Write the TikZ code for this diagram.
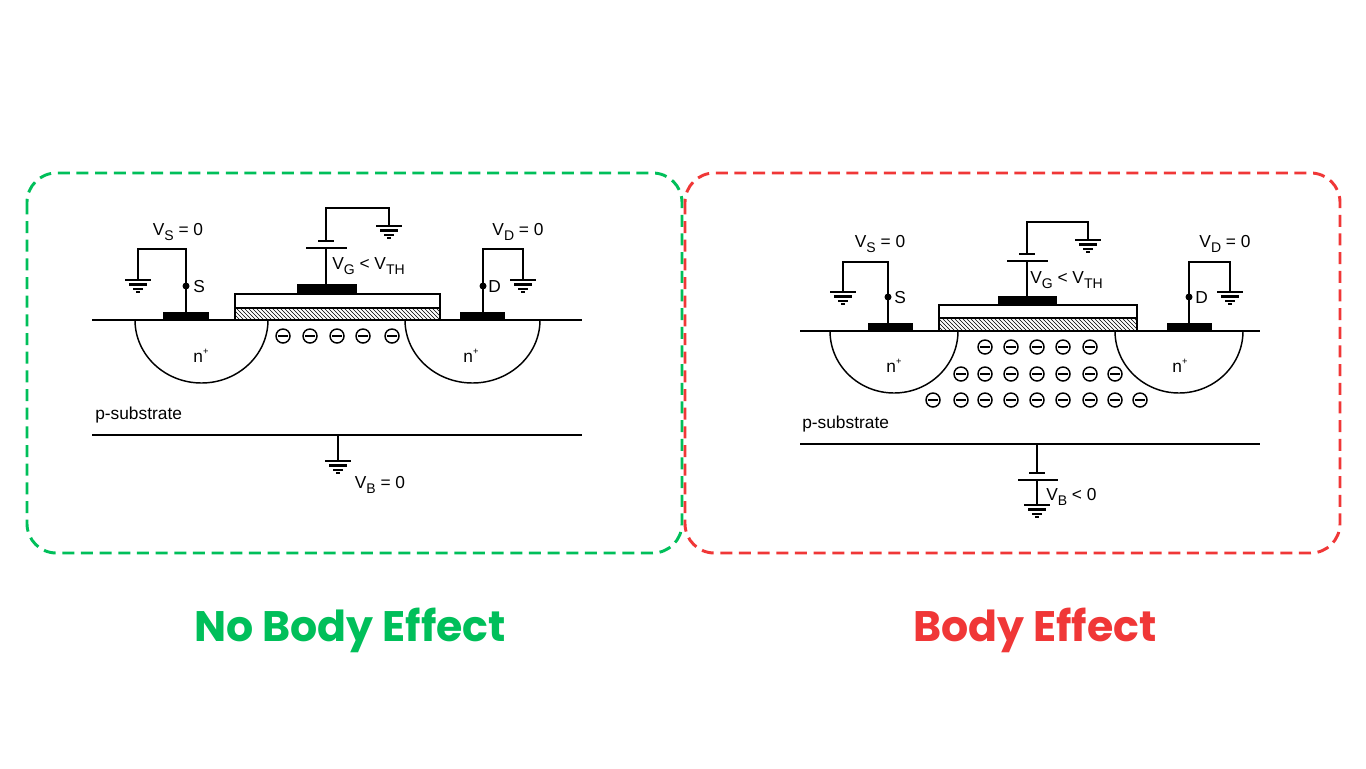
\documentclass[tikz,border=0pt]{standalone}
\usepackage{fontspec}
\setmainfont{Liberation Sans}
\newfontfamily\titlefont{Poppins}
\usetikzlibrary{patterns}
\definecolor{gr}{RGB}{0,191,90}
\definecolor{rd}{RGB}{240,55,55}
\newcommand\sbs[1]{\raisebox{-3.5pt}{\fontsize{10.5}{12}\selectfont #1}}
\newcommand\sps[1]{\raisebox{6pt}{\fontsize{7}{8}\selectfont #1}}
\tikzset{
  w/.style={line width=1.1pt},
  lbl/.style={font=\fontsize{13}{15}\selectfont, inner sep=0pt},
  gnd/.pic={\draw[line width=2.2pt] (-13,0)--(13,0) (-9,4.5)--(9,4.5) (-5,9)--(5,9) (-2,12)--(2,12);},
  elec/.pic={\draw[line width=1.1pt] (0,0) circle (7); \draw[line width=1.1pt] (-5,0)--(5,0);},
  frame/.style={line width=2.2pt, rounded corners=22pt, dash pattern=on 9pt off 5pt},
  title/.style={font=\titlefont\bfseries\fontsize{32}{36}\selectfont}
}
\begin{document}
\begin{tikzpicture}[x=0.75pt,y=-0.75pt]
\useasboundingbox (0,0) rectangle (1366,768);
\fill[white] (0,0) rectangle (1366,768);
% frames
\draw[frame,gr] (27,173) rectangle (682,553);
\draw[frame,rd] (685,173) rectangle (1340,553);
\node[title,text=gr] (t1) at (350,630) {No Body Effect};
\node[title,text=rd] (t2) at (1035,630) {Body Effect};

% ---------- LEFT ----------
\draw[w] (92,320)--(582,320);
\draw[w] (92,435)--(582,435);
\draw[w] (135,320) arc[start angle=180,end angle=0,x radius=66.5,y radius=63];
\draw[w] (405,320) arc[start angle=180,end angle=0,x radius=67.5,y radius=63];
\fill (163,312) rectangle (209,320);
\fill (460,312) rectangle (505,320);
\draw[w,pattern=north west lines] (235,308) rectangle (440,320);
\draw[w] (235,294) rectangle (440,308);
\fill (297,284) rectangle (357,294);
% gate
\draw[w] (326,284)--(326,248);
\draw[line width=2pt] (306,248)--(347,248);
\draw[line width=2pt] (318,241)--(334,241);
\draw[w] (326,241)--(326,208)--(389,208)--(389,226);
\pic at (389,226) {gnd};
\node[lbl,anchor=west] (vg1) at (332,266) {V\sbs{G} < V\sbs{TH}};
% source
\draw[w] (186,320)--(186,249)--(138,249)--(138,280);
\pic at (138,280) {gnd};
\fill (186,286) circle (3.5);
\node[lbl,anchor=west] (s1) at (193,287) {S};
\node[lbl] (vs1) at (178,232) {V\sbs{S} = 0};
% drain
\draw[w] (483,320)--(483,249)--(523,249)--(523,280);
\pic at (523,280) {gnd};
\fill (483,286) circle (3.5);
\node[lbl,anchor=west] (d1) at (488,287) {D};
\node[lbl] (vd1) at (518,232) {V\sbs{D} = 0};
% electrons
\foreach \x in {283,310,337,363,392} \pic at (\x,336) {elec};
\node[lbl] (n1) at (201,356) {n\sps{+}};
\node[lbl] (n2) at (471,356) {n\sps{+}};
\node[lbl,anchor=west] (ps1) at (95,415) {p-substrate};
% body
\draw[w] (338,435)--(338,461);
\pic at (338,461) {gnd};
\node[lbl] (vb1) at (380,485) {V\sbs{B} = 0};

% ---------- RIGHT ----------
\draw[w] (800,331)--(1260,331);
\draw[w] (800,444)--(1260,444);
\draw[w] (830,331) arc[start angle=180,end angle=0,x radius=64,y radius=62];
\draw[w] (1115,331) arc[start angle=180,end angle=0,x radius=64,y radius=62];
\fill (868,323) rectangle (913,331);
\fill (1167,323) rectangle (1212,331);
\draw[w,pattern=north west lines] (939,318) rectangle (1137,331);
\draw[w] (939,305) rectangle (1137,318);
\fill (998,296) rectangle (1057,305);
% gate
\draw[w] (1027,296)--(1027,261);
\draw[line width=2pt] (1007,261)--(1048,261);
\draw[line width=2pt] (1019,254)--(1035,254);
\draw[w] (1027,254)--(1027,222)--(1088,222)--(1088,240);
\pic at (1088,240) {gnd};
\node[lbl,anchor=west] (vg2) at (1030,280) {V\sbs{G} < V\sbs{TH}};
% source
\draw[w] (888,331)--(888,262)--(843,262)--(843,292);
\pic at (843,292) {gnd};
\fill (888,297) circle (3.5);
\node[lbl,anchor=west] (s2) at (894,298) {S};
\node[lbl] (vs2) at (880,244) {V\sbs{S} = 0};
% drain
\draw[w] (1189,331)--(1189,262)--(1230,262)--(1230,292);
\pic at (1230,292) {gnd};
\fill (1189,297) circle (3.5);
\node[lbl,anchor=west] (d2) at (1195,298) {D};
\node[lbl] (vd2) at (1225,244) {V\sbs{D} = 0};
% electrons
\foreach \x in {985,1011,1037,1063,1090} \pic at (\x,347) {elec};
\foreach \x in {961,985,1011,1037,1063,1090,1115} \pic at (\x,374) {elec};
\foreach \x in {933,961,985,1011,1037,1063,1090,1115,1140} \pic at (\x,400) {elec};
\node[lbl] (n3) at (894,366) {n\sps{+}};
\node[lbl] (n4) at (1180,366) {n\sps{+}};
\node[lbl,anchor=west] (ps2) at (802,424) {p-substrate};
% body
\draw[w] (1037,444)--(1037,473);
\draw[line width=2pt] (1029,473)--(1045,473);
\draw[line width=2pt] (1018,480)--(1058,480);
\draw[w] (1037,480)--(1037,505);
\pic at (1037,505) {gnd};
\node[lbl,anchor=west] (vb2) at (1046,497) {V\sbs{B} < 0};
\end{tikzpicture}
\end{document}
